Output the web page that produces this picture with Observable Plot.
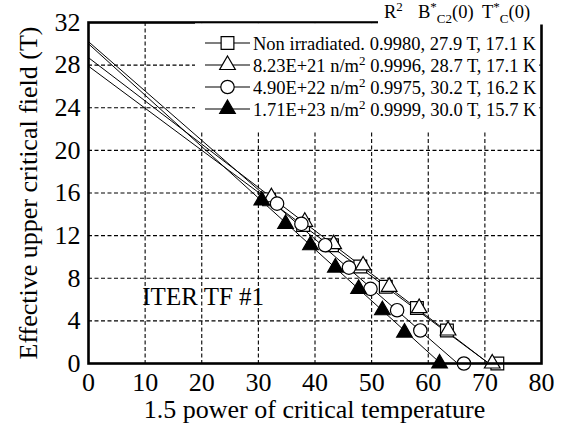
<!DOCTYPE html>
<html><head><meta charset="utf-8">
<script src="https://cdn.jsdelivr.net/npm/d3@7"></script>
<script src="https://cdn.jsdelivr.net/npm/@observablehq/plot@0.6"></script>
<style>body{margin:0;background:#fff;} svg{display:block} .lg text, .lg tspan{font-family:'Liberation Serif','Times New Roman',serif;}</style>
</head><body><div id="chart"></div>
<script>
// ---- data ----
const xTicks = [0, 10, 20, 30, 40, 50, 60, 70, 80];
const yTicks = [0, 4, 8, 12, 16, 20, 24, 28, 32];

const seriesLabels = ["Non irradiated.", "8.23E+21 n/m", "4.90E+22 n/m", "1.71E+23 n/m"];
const seriesR2 = ["0.9980", "0.9996", "0.9975", "0.9999"];
const seriesBc2 = [27.9, 28.7, 30.2, 30.0];   // B*c2(0), T
const seriesTc = [17.1, 17.1, 16.2, 15.7];    // T*c(0), K

const nonIrrX = [31.9, 37.9, 43.0, 48.0, 52.5, 58.0, 63.3, 72.2];
const nonIrrY = [15.4, 13.0, 11.1, 9.1, 7.2, 5.2, 3.1, 0];
const f823X = [32.3, 38.2, 43.3, 48.5, 53.1, 58.4, 63.5, 71.3];
const f823Y = [15.6, 13.3, 11.2, 9.2, 7.2, 5.2, 3.1, 0];
const f490X = [33.3, 37.6, 41.8, 46.0, 49.8, 54.5, 58.6, 66.3];
const f490Y = [15.0, 13.1, 11.1, 9.0, 7.0, 5.0, 3.1, 0];
const f171X = [30.6, 34.8, 39.2, 43.6, 47.7, 51.9, 55.8, 62.0];
const f171Y = [15.3, 13.1, 11.1, 9.0, 7.0, 5.0, 2.9, 0];

const annotText = ["ITER TF #1"];
const annotX = [9.5];
const annotY = [6.2];

const xTitle = "1.5 power of critical temperature";
const yTitle = "Effective upper critical field (T)";

// ---- build tables ----
const seriesX = [nonIrrX, f823X, f490X, f171X];
const seriesY = [nonIrrY, f823Y, f490Y, f171Y];
const symbols = ["square", "triangle", "circle", "triangle"];
const fills = ["white", "white", "white", "black"];
const radii = [7.2, 5.8, 6.7, 5.8];

const points = seriesX.map((xs, i) => xs.map((x, j) => ({series: i, x, y: seriesY[i][j]})));
const fitRows = seriesBc2.flatMap((b, i) => [
  {series: i, x: 0, y: b},
  {series: i, x: Math.pow(seriesTc[i], 1.5), y: 0}
]);
const annot = annotText.map((t, i) => ({t, x: annotX[i], y: annotY[i]}));

const FONT = "'Liberation Serif', 'Times New Roman', serif";
const grid = {stroke: "black", strokeOpacity: 1, strokeWidth: 1.1, strokeDasharray: "4,2.5"};

const plot = Plot.plot({
  width: 565, height: 432,
  marginLeft: 88, marginRight: 24, marginTop: 22, marginBottom: 69,
  style: {fontFamily: FONT, fontSize: "26px", background: "white", color: "black"},
  x: {domain: [0, 80]},
  y: {domain: [0, 32]},
  marks: [
    Plot.gridX(xTicks.slice(1, -1), grid),
    Plot.gridY(yTicks.slice(1, -1), grid),
    Plot.line(fitRows, {x: "x", y: "y", z: "series", stroke: "black", strokeWidth: 1}),
    ...points.map((pts, i) => Plot.dot(pts, {
      x: "x", y: "y", symbol: symbols[i], r: radii[i],
      fill: fills[i], stroke: "black", strokeWidth: 1.2
    })),
    Plot.text(annot, {x: "x", y: "y", text: "t", textAnchor: "start", fontSize: 25, fill: "black"}),
    Plot.axisX(xTicks, {tickSize: 0, tickPadding: 9, fontSize: 26, label: null}),
    Plot.axisY(yTicks, {tickSize: 0, tickPadding: 8, fontSize: 26, label: null}),
    Plot.frame({stroke: "black", strokeWidth: 2.6})
  ]
});
document.getElementById("chart").appendChild(plot);

// ---- axis titles ----
const svg = d3.select(plot);
svg.append("text").attr("x", 314.5).attr("y", 418).attr("text-anchor", "middle")
  .attr("font-family", FONT).attr("font-size", 26).attr("fill", "black").text(xTitle);
svg.append("text").attr("transform", "translate(37,193) rotate(-90)").attr("text-anchor", "middle")
  .attr("font-family", FONT).attr("font-size", 26).attr("fill", "black").text(yTitle);

// ---- legend ----
const lg = svg.append("g").attr("class", "lg").attr("font-family", FONT).attr("font-size", 18.5)
  .attr("fill", "black").attr("text-anchor", "start");
lg.append("rect").attr("x", 195).attr("y", 23.4).attr("width", 344.2).attr("height", 107).attr("fill", "white");
lg.append("rect").attr("x", 378).attr("y", 0).attr("width", 187).attr("height", 24.5).attr("fill", "white");

function txt(x, y) {
  return lg.append("text").attr("x", x).attr("y", y).attr("text-anchor", "start")
    .attr("font-family", FONT).attr("font-size", 18.5);
}

// header
const h1 = txt(384, 18);
h1.append("tspan").text("R");
h1.append("tspan").attr("dy", -7).attr("font-size", 13).text("2");
const h2 = txt(418, 18);
h2.append("tspan").text("B");
h2.append("tspan").attr("dy", -7).attr("font-size", 13).text("*");
h2.append("tspan").attr("dy", 12).attr("font-size", 13).text("C2");
h2.append("tspan").attr("dy", -5).text("(0)");
const h3 = txt(482, 18);
h3.append("tspan").text("T");
h3.append("tspan").attr("dy", -7).attr("font-size", 13).text("*");
h3.append("tspan").attr("dy", 12).attr("font-size", 13).text("C");
h3.append("tspan").attr("dy", -5).text("(0)");

const symTypes = {square: d3.symbolSquare, triangle: d3.symbolTriangle, circle: d3.symbolCircle};
const rowY = [43, 65, 87, 109];
seriesLabels.forEach((lab, i) => {
  const y = rowY[i];
  lg.append("line").attr("x1", 205).attr("x2", 250).attr("y1", y).attr("y2", y)
    .attr("stroke", "black").attr("stroke-width", 1.2);
  lg.append("path").attr("transform", `translate(227.5,${y})`)
    .attr("d", d3.symbol().type(symTypes[symbols[i]]).size(Math.PI * radii[i] * radii[i])())
    .attr("fill", fills[i]).attr("stroke", "black").attr("stroke-width", 1.2);
  const t = txt(253, y + 6.5);
  t.append("tspan").text(lab);
  const rest = " " + seriesR2[i] + ", " + seriesBc2[i].toFixed(1) + " T, " + seriesTc[i].toFixed(1) + " K";
  if (i > 0) {
    t.append("tspan").attr("dy", -7).attr("font-size", 13).text("2");
    t.append("tspan").attr("dy", 7).text(rest);
  } else {
    t.append("tspan").text(rest);
  }
});
</script>
</body></html>
